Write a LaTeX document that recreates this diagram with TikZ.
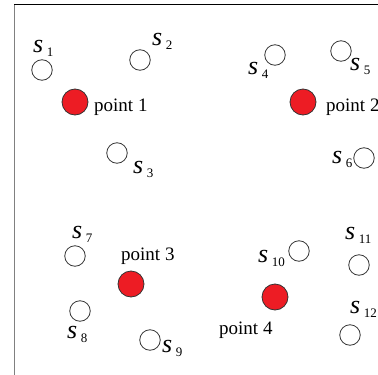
\documentclass[tikz,border=0pt]{standalone}
\usepackage{fontspec}
\setmainfont{Liberation Serif}
\usepackage{tikz}
\definecolor{ptred}{HTML}{ED1C24}
\definecolor{edgegray}{HTML}{333333}
\definecolor{framegray}{HTML}{808080}
\tikzset{
  sens/.style={circle, draw=edgegray, line width=.8pt, fill=white, minimum size=20.5pt, inner sep=0pt},
  hit/.style={circle, draw=edgegray, line width=.8pt, fill=ptred, minimum size=26pt, inner sep=0pt},
  slbl/.style={anchor=base west, inner sep=0pt},
  plbl/.style={anchor=west, inner sep=0pt, font=\fontsize{19}{19}\selectfont},
}
\newcommand{\sname}[1]{{\fontsize{26}{26}\selectfont\itshape s}\kern3.5pt\raisebox{-4.5pt}{\fontsize{13}{13}\selectfont #1}}

\begin{document}
\begin{tikzpicture}[x=1pt, y=-1pt]
    \useasboundingbox (0,0) rectangle (378,375);
    % rahmen
    \draw[draw=framegray, line width=1.5pt] (14.5,4) -- (14.5,380);
    \draw[draw=black, line width=1pt] (14,4) -- (380,4);

    % sensoren
    \foreach \i/\x/\y in {1/42/70, 2/140/60, 3/117/153, 4/275/55, 5/341/51, 6/364/158,
                          7/75/256, 8/80/311, 9/150/340, 10/299/251, 11/359/265, 12/350/335}{
      \node[sens] (s\i) at (\x,\y) {};
    }
    \foreach \i/\x/\y in {1/33/52, 2/152/45, 3/133/173, 4/248/74, 5/350/70, 6/332/163,
                          7/72/238, 8/67/338, 9/162/352, 10/258/262, 11/345/239, 12/350/313}{
      \node[slbl] (l\i) at (\x,\y) {\sname{\i}};
    }

    % punkte
    \foreach \i/\x/\y in {1/75/102, 2/303/102, 3/131/284, 4/275/297}{
      \node[hit] (p\i) at (\x,\y) {};
    }
    \node[plbl] (t1) at (94,107) {point 1};
    \node[plbl] (t2) at (326,107) {point 2};
    \node[plbl] (t3) at (121,256) {point 3};
    \node[plbl] (t4) at (219,330) {point 4};
\end{tikzpicture}
\end{document}
